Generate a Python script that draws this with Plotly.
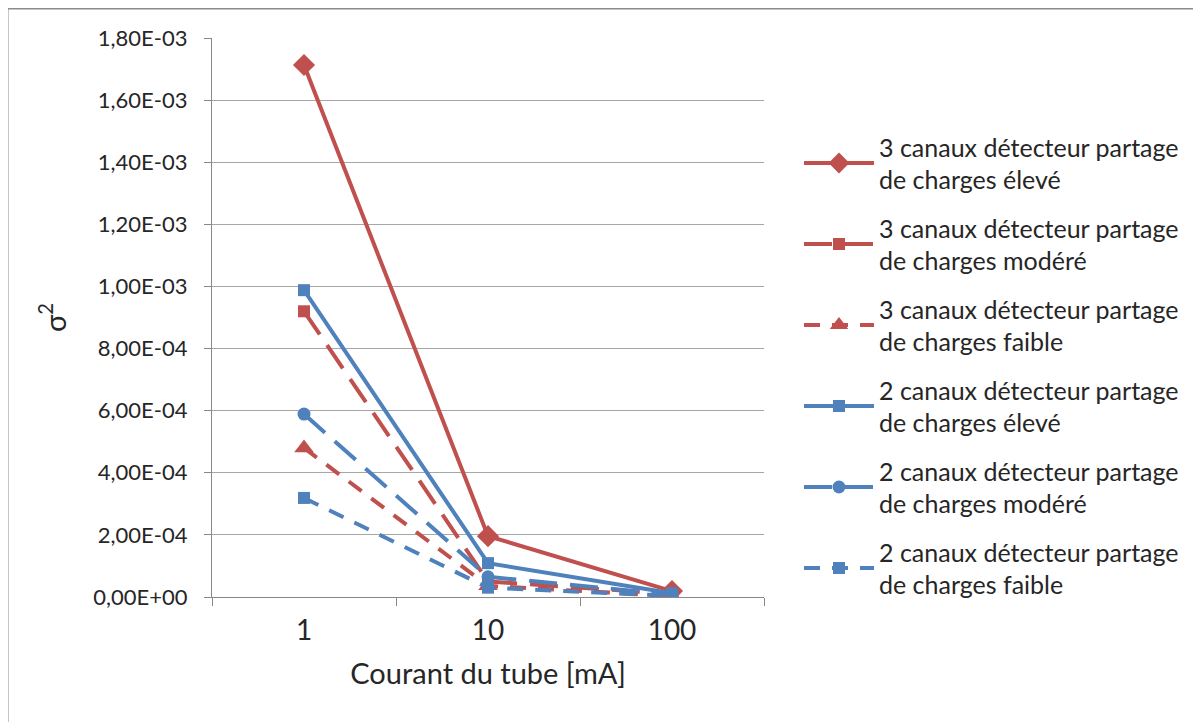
import plotly.graph_objects as go

categories = ["1", "10", "100"]
names = [
    "3 canaux détecteur partage<br>de charges élevé",
    "3 canaux détecteur partage<br>de charges modéré",
    "3 canaux détecteur partage<br>de charges faible",
    "2 canaux détecteur partage<br>de charges élevé",
    "2 canaux détecteur partage<br>de charges modéré",
    "2 canaux détecteur partage<br>de charges faible",
]
s3_eleve = [1.713e-3, 1.96e-4, 1.9e-5]
s3_modere = [9.2e-4, 5.0e-5, 1.0e-5]
s3_faible = [4.8e-4, 3.6e-5, 3e-6]
s2_eleve = [9.88e-4, 1.09e-4, 1.2e-5]
s2_modere = [5.89e-4, 6.5e-5, 7e-6]
s2_faible = [3.19e-4, 3.0e-5, 4e-6]
ytick_vals = [0, 2e-4, 4e-4, 6e-4, 8e-4, 1e-3, 1.2e-3, 1.4e-3, 1.6e-3, 1.8e-3]
ytick_text = ["0,00E+00", "2,00E-04", "4,00E-04", "6,00E-04", "8,00E-04",
              "1,00E-03", "1,20E-03", "1,40E-03", "1,60E-03", "1,80E-03"]

RED = "#C0504D"
BLUE = "#4F81BD"
FONT = "Lato"

series = [
    (s3_eleve, RED, "solid", "diamond", 17),
    (s3_modere, RED, "28px,13px", "square", 12),
    (s3_faible, RED, "16px,12px", "triangle-up", 17),
    (s2_eleve, BLUE, "solid", "square", 12),
    (s2_modere, BLUE, "28px,13px", "circle", 13),
    (s2_faible, BLUE, "16px,12px", "square", 12),
]

fig = go.Figure()
for i, (vals, col, dash, sym, size) in enumerate(series):
    fig.add_trace(go.Scatter(
        x=categories, y=vals, name=names[i], mode="lines+markers",
        legendgroup=f"g{i}",
        line=dict(color=col, width=4, dash=dash),
        marker=dict(symbol=sym, size=size, color=col),
    ))

# page body has an 8px offset; work in reference pixel coords
OFF = 8
W, H = 1201 - OFF, 722 - OFF
L, R, T, B = 212 - OFF, 764 - OFF, 38 - OFF, 597 - OFF
pw, ph = R - L, B - T

def px(x):
    return (x - OFF - L) / pw

def py(y):
    return (B - (y - OFF)) / ph

fig.add_shape(type="rect", xref="paper", yref="paper",
              x0=px(7), x1=px(1215), y0=py(735), y1=py(8),
              line=dict(color="#8c8c8c", width=3), fillcolor="rgba(0,0,0,0)")

fig.update_layout(
    width=W, height=H,
    margin=dict(l=L, r=W - R, t=T, b=H - B, autoexpand=False),
    paper_bgcolor="white", plot_bgcolor="white",
    font=dict(family=FONT, color="#262626", size=22),
    showlegend=True,
    legend=dict(x=px(799), y=py(124), xanchor="left", yanchor="top",
                font=dict(size=25, family=FONT, color="#262626"),
                tracegroupgap=13, itemwidth=70, bgcolor="rgba(0,0,0,0)"),
    xaxis=dict(type="category", range=[-0.5, 2.5], showgrid=False,
               showline=True, linecolor="#888888", linewidth=1.3,
               ticks="outside", tickson="boundaries", ticklen=8,
               tickcolor="#888888", tickfont=dict(size=28),
               ticklabelstandoff=8,
               title=dict(text="Courant du tube [mA]", font=dict(size=29), standoff=18)),
    yaxis=dict(range=[0, 1.8e-3], tickvals=ytick_vals, ticktext=ytick_text,
               showgrid=True, gridcolor="#a6a6a6", gridwidth=1.2,
               showline=True, linecolor="#888888", linewidth=1.3,
               ticks="outside", ticklen=7, tickcolor="#888888",
               tickfont=dict(size=22), zeroline=False, ticklabelstandoff=12,
               title=dict(text="σ<sup>2</sup>", font=dict(size=29), standoff=18)),
)

fig.write_html("out.html")
